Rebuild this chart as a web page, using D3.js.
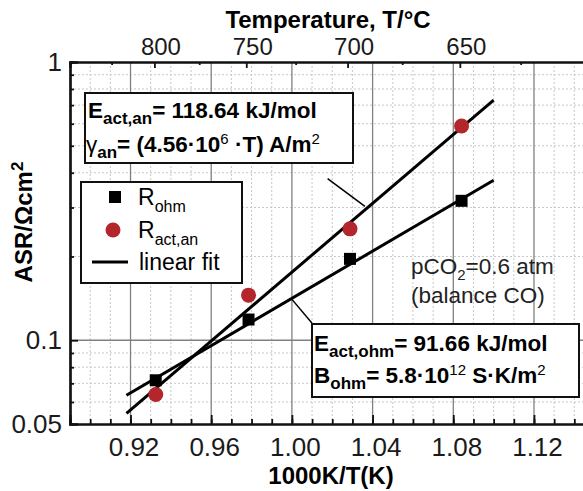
<!DOCTYPE html>
<html>
<head>
<meta charset="utf-8">
<script src="https://cdn.jsdelivr.net/npm/d3@7"></script>
<style>
  body { margin: 0; background: #fff; }
  svg { font-family: "Liberation Sans", Arial, sans-serif; }
</style>
</head>
<body>
<script>
// values
const invT = [0.9325, 0.9785, 1.0288, 1.0841];
const rOhm = [0.0718, 0.1187, 0.1961, 0.3170];
const rAct = [0.0638, 0.1452, 0.2514, 0.5886];
const fitX = [0.918, 1.100];
const fitOhm = [0.0634, 0.376];
const fitAct = [0.0546, 0.730];
const tempMajor = [800, 750, 700, 650];
const tempMinor = [825, 775, 725, 675, 625];
const xTicks = [0.92, 0.96, 1.00, 1.04, 1.08, 1.12];
const yLabels = [0.05, 0.1, 1];

const w = 583, h = 491;
const svg = d3.select("body").append("svg").attr("width", w).attr("height", h);

const x = d3.scaleLinear().domain([0.89, 1.15]).range([70, 594.5]);
const y = d3.scaleLog().domain([0.05, 1]).range([424, 62]);
const invTemp = t => 1000 / (t + 273.15);

const xMinor = d3.range(0.89, 1.155, 0.01).map(d => +d.toFixed(2));
const yMinor = [0.06, 0.07, 0.08, 0.09, 0.2, 0.3, 0.4, 0.5, 0.6, 0.7, 0.8, 0.9];

// grid
const grid = svg.append("g");
grid.selectAll(".vminor").data(xMinor.filter(d => !xTicks.includes(d))).enter().append("line")
  .attr("x1", d => x(d)).attr("x2", d => x(d)).attr("y1", y(1)).attr("y2", y(0.05))
  .attr("stroke", "#c8c8c8").attr("stroke-dasharray", "2,2");
grid.selectAll(".hminor").data(yMinor).enter().append("line")
  .attr("x1", x(0.89)).attr("x2", w).attr("y1", d => y(d)).attr("y2", d => y(d))
  .attr("stroke", "#c8c8c8").attr("stroke-dasharray", "2,2");
grid.selectAll(".vmajor").data(xTicks).enter().append("line")
  .attr("x1", d => x(d)).attr("x2", d => x(d)).attr("y1", y(1)).attr("y2", y(0.05))
  .attr("stroke", "#808080").attr("stroke-width", 1.3);
grid.append("line").attr("x1", x(0.89)).attr("x2", w).attr("y1", y(0.1)).attr("y2", y(0.1))
  .attr("stroke", "#808080").attr("stroke-width", 1.3);

// axes
const bottomMinor = d3.axisBottom(x).tickValues(xMinor).tickSize(-5).tickFormat("");
svg.append("g").attr("transform", `translate(0,${y(0.05)})`).call(bottomMinor);
const bottom = d3.axisBottom(x).tickValues(xTicks).tickSize(-9).tickPadding(14)
  .tickFormat(d3.format(".2f"));
const gB = svg.append("g").attr("transform", `translate(0,${y(0.05)})`).call(bottom);
gB.selectAll("text").attr("dx", 3).attr("dy", "0.71em");

const topMinor = d3.axisTop(x).tickValues(tempMinor.map(invTemp)).tickSize(-3).tickFormat("");
svg.append("g").attr("transform", `translate(0,${y(1)})`).call(topMinor);
const topAx = d3.axisTop(x).tickValues(tempMajor.map(invTemp)).tickSize(-6).tickPadding(7)
  .tickFormat((d, i) => tempMajor[i]);
const gT = svg.append("g").attr("transform", `translate(0,${y(1)})`).call(topAx);

const leftMinor = d3.axisLeft(y).tickValues(yMinor).tickSize(-4).tickFormat("");
svg.append("g").attr("transform", `translate(${x(0.89)},0)`).call(leftMinor);
const leftAx = d3.axisLeft(y).tickValues(yLabels).tickSize(-8).tickPadding(8)
  .tickFormat(d => d);
svg.append("g").attr("transform", `translate(${x(0.89)},0)`).call(leftAx);

svg.selectAll(".domain").attr("stroke", "#111").attr("stroke-width", 2.2);
svg.selectAll(".tick line").attr("stroke", "#111").attr("stroke-width", 1.8);
svg.selectAll(".tick text").attr("font-size", 26).attr("fill", "#1a1a1a")
  .attr("font-family", "Liberation Sans, Arial, sans-serif");
gT.selectAll("text").attr("dx", 6).attr("font-size", 24);

// axis titles
svg.append("text").attr("x", 328).attr("y", 28).attr("text-anchor", "middle")
  .attr("font-size", 24).attr("font-weight", "bold").text("Temperature, T/°C");
svg.append("text").attr("x", 331).attr("y", 484).attr("text-anchor", "middle")
  .attr("font-size", 24).attr("font-weight", "bold").text("1000K/T(K)");
const yt = svg.append("text").attr("transform", "translate(32,222) rotate(-90)")
  .attr("text-anchor", "middle").attr("font-size", 24).attr("font-weight", "bold");
yt.append("tspan").text("ASR/Ωcm");
yt.append("tspan").attr("dy", -9).attr("font-size", 17).text("2");

// fit lines
const line = d3.line().x(d => x(d[0])).y(d => y(d[1]));
[fitOhm, fitAct].forEach(f => {
  svg.append("path").datum(fitX.map((v, i) => [v, f[i]])).attr("d", line)
    .attr("fill", "none").attr("stroke", "#000").attr("stroke-width", 3);
});

// points
svg.selectAll(".act").data(invT).enter().append("circle")
  .attr("cx", d => x(d)).attr("cy", (d, i) => y(rAct[i])).attr("r", 7.5).attr("fill", "#b3262b");
svg.selectAll(".ohm").data(invT).enter().append("rect")
  .attr("x", d => x(d) - 6).attr("y", (d, i) => y(rOhm[i]) - 6)
  .attr("width", 12).attr("height", 12).attr("fill", "#000");

// leader lines
svg.append("line").attr("x1", x(1.0177)).attr("y1", y(0.381)).attr("x2", x(1.0362)).attr("y2", y(0.303))
  .attr("stroke", "#000").attr("stroke-width", 1.5);
svg.append("line").attr("x1", x(0.9995)).attr("y1", y(0.1417)).attr("x2", x(1.0099)).attr("y2", y(0.1153))
  .attr("stroke", "#000").attr("stroke-width", 1.5);

// annotation box (anode)
svg.append("rect").attr("x", 85).attr("y", 93).attr("width", 268).attr("height", 70)
  .attr("fill", "#fff").attr("stroke", "#111").attr("stroke-width", 2);
let t = svg.append("text").attr("x", 88).attr("y", 118).attr("font-size", 22.5).attr("font-weight", "bold");
t.append("tspan").text("E");
t.append("tspan").attr("dy", 6).attr("font-size", 17).text("act,an");
t.append("tspan").attr("dy", -6).text("= 118.64 kJ/mol");
t = svg.append("text").attr("x", 86).attr("y", 152).attr("font-size", 22.5).attr("font-weight", "bold");
t.append("tspan").attr("font-weight", "normal").text("γ");
t.append("tspan").attr("dy", 6).attr("font-size", 17).text("an");
t.append("tspan").attr("dy", -6).text("= (4.56·10");
t.append("tspan").attr("dy", -8).attr("font-size", 15).attr("font-weight", "normal").text("6");
t.append("tspan").attr("dy", 8).text(" ·T) A/m");
t.append("tspan").attr("dy", -8).attr("font-size", 15).attr("font-weight", "normal").text("2");

// legend
svg.append("rect").attr("x", 81).attr("y", 182).attr("width", 161).attr("height", 101)
  .attr("fill", "#fff").attr("stroke", "#111").attr("stroke-width", 2);
svg.append("rect").attr("x", 109).attr("y", 191).attr("width", 12).attr("height", 12).attr("fill", "#000");
svg.append("circle").attr("cx", 113).attr("cy", 230).attr("r", 7.5).attr("fill", "#b3262b");
svg.append("line").attr("x1", 92).attr("x2", 128).attr("y1", 262).attr("y2", 262)
  .attr("stroke", "#000").attr("stroke-width", 3);
t = svg.append("text").attr("x", 138).attr("y", 205).attr("font-size", 23);
t.append("tspan").text("R");
t.append("tspan").attr("dy", 7).attr("font-size", 16).text("ohm");
t = svg.append("text").attr("x", 138).attr("y", 238).attr("font-size", 23);
t.append("tspan").text("R");
t.append("tspan").attr("dy", 7).attr("font-size", 16).text("act,an");
svg.append("text").attr("x", 139).attr("y", 270).attr("font-size", 23).text("linear fit");

// conditions
t = svg.append("text").attr("x", 411).attr("y", 274).attr("font-size", 22.5).attr("fill", "#222");
t.append("tspan").text("pCO");
t.append("tspan").attr("dy", 6).attr("font-size", 15).text("2");
t.append("tspan").attr("dy", -6).text("=0.6 atm");
svg.append("text").attr("x", 411).attr("y", 303).attr("font-size", 22.5).attr("fill", "#222").text("(balance CO)");

// annotation box (ohmic)
svg.append("rect").attr("x", 312).attr("y", 324).attr("width", 267).attr("height", 73)
  .attr("fill", "#fff").attr("stroke", "#111").attr("stroke-width", 2);
t = svg.append("text").attr("x", 314).attr("y", 351).attr("font-size", 22.5).attr("font-weight", "bold");
t.append("tspan").text("E");
t.append("tspan").attr("dy", 6).attr("font-size", 17).text("act,ohm");
t.append("tspan").attr("dy", -6).text("= 91.66 kJ/mol");
t = svg.append("text").attr("x", 314).attr("y", 383).attr("font-size", 22.5).attr("font-weight", "bold");
t.append("tspan").text("B");
t.append("tspan").attr("dy", 6).attr("font-size", 17).text("ohm");
t.append("tspan").attr("dy", -6).text("= 5.8·10");
t.append("tspan").attr("dy", -8).attr("font-size", 15).attr("font-weight", "normal").text("12");
t.append("tspan").attr("dy", 8).text(" S·K/m");
t.append("tspan").attr("dy", -8).attr("font-size", 15).attr("font-weight", "normal").text("2");
</script>
</body>
</html>
